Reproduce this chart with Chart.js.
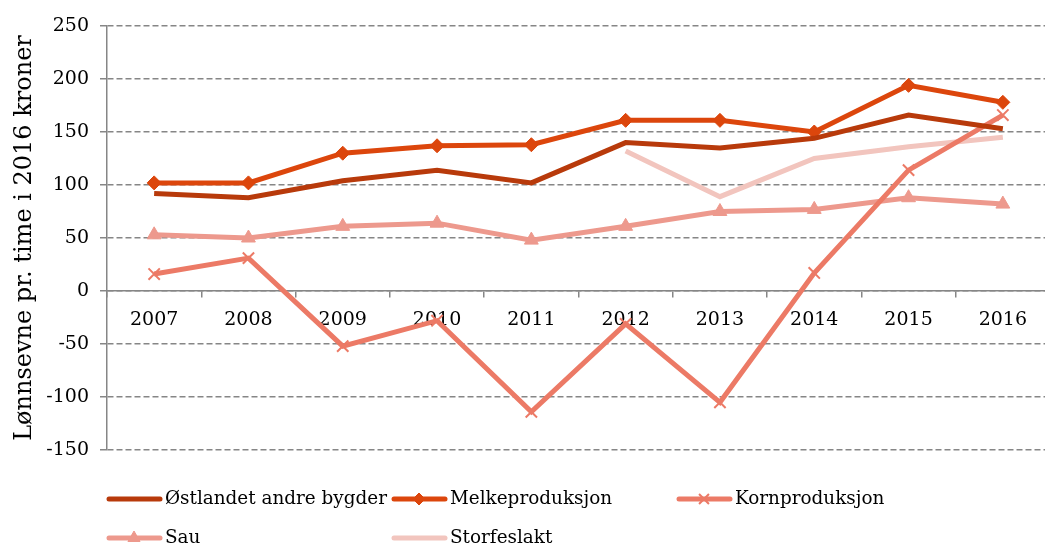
<!DOCTYPE html>
<html>
<head>
<meta charset="utf-8">
<script src="https://cdn.jsdelivr.net/npm/chart.js@4"></script>
<style>
  html, body { margin: 0; padding: 0; background: #fff; overflow: hidden; }
  #wrap { width: 1060px; height: 547px; }
</style>
</head>
<body>
<div id="wrap"><canvas id="lonnChart" width="1060" height="547"></canvas></div>
<script>
// kategorier og verdier lest av figuren
const aar = ['2007', '2008', '2009', '2010', '2011', '2012', '2013', '2014', '2015', '2016'];
const ostlandet = [92, 88, 104, 114, 102, 140, 135, 144, 166, 153];
const melk = [102, 102, 130, 137, 138, 161, 161, 150, 194, 178];
const korn = [16, 31, -52, -28, -114, -31, -105, 17, 114, 166];
const sau = [53, 50, 61, 64, 48, 61, 75, 77, 88, 82];
const storfe = [null, null, null, null, null, 132, 89, 125, 136, 145];
const yTicks = [250, 200, 150, 100, 50, 0, -50, -100, -150];

const serif = '"DejaVu Serif", "Liberation Serif", serif';
const axisGray = '#868686';

function serie(label, data, color, style, radius) {
    return {
        label: label,
        data: data,
        borderColor: color,
        backgroundColor: color,
        borderWidth: 5,
        tension: 0,
        fill: false,
        pointStyle: style,
        pointRadius: radius,
        pointHoverRadius: radius,
        pointBorderWidth: style === 'crossRot' ? 2 : 1,
        spanGaps: false,
    };
}

// egen legende i to kolonner (som i originalen)
const kolonneLegende = {
    id: 'kolonneLegende',
    afterDraw(chart) {
        const ctx = chart.ctx;
        const plass = [[107, 499], [392, 499], [677, 499], [107, 538], [392, 538]];
        chart.data.datasets.forEach((ds, i) => {
            const [x, y] = plass[i];
            ctx.save();
            ctx.strokeStyle = ds.borderColor;
            ctx.lineWidth = 5;
            ctx.lineCap = 'round';
            ctx.beginPath();
            ctx.moveTo(x + 2, y);
            ctx.lineTo(x + 53, y);
            ctx.stroke();
            if (ds.pointRadius > 0) {
                ctx.fillStyle = ds.backgroundColor;
                ctx.strokeStyle = ds.borderColor;
                ctx.lineWidth = ds.pointBorderWidth;
                ctx.lineCap = 'butt';
                Chart.helpers.drawPoint(ctx, {
                    pointStyle: ds.pointStyle,
                    radius: ds.pointRadius - 1,
                    rotation: 0,
                    borderWidth: ds.pointBorderWidth
                }, x + 27, y);
            }
            ctx.fillStyle = '#000';
            ctx.font = '18.4px ' + serif;
            ctx.textBaseline = 'middle';
            ctx.fillText(ds.label, x + 58, y);
            ctx.restore();
        });
    }
};

const config = {
    type: 'line',
    data: {
        labels: aar,
        datasets: [
            serie('Østlandet andre bygder', ostlandet, '#B83A0B', 'circle', 0),
            serie('Melkeproduksjon', melk, '#DC460C', 'rectRot', 7),
            serie('Kornproduksjon', korn, '#EC7A66', 'crossRot', 8),
            serie('Sau', sau, '#ED998D', 'triangle', 8),
            serie('Storfeslakt', storfe, '#F2C5BE', 'circle', 0),
        ]
    },
    options: {
        responsive: false,
        animation: false,
        layout: { padding: { top: 26, right: 3, bottom: 97, left: 10 } },
        plugins: {
            legend: { display: false },
            tooltip: { enabled: false }
        },
        scales: {
            x: {
                type: 'category',
                position: { y: 0 },
                offset: true,
                grid: {
                    offset: true,
                    drawOnChartArea: false,
                    tickLength: 6,
                    color: axisGray,
                    lineWidth: 1.5
                },
                border: { color: axisGray, width: 1.5 },
                ticks: {
                    color: '#000',
                    font: { family: serif, size: 19 },
                    padding: 12,
                    maxRotation: 0
                }
            },
            y: {
                min: -150,
                max: 250,
                afterBuildTicks(scale) {
                    scale.ticks = yTicks.map(v => ({ value: v }));
                },
                afterFit(scale) { scale.width = 97; },
                grid: {
                    color: axisGray,
                    lineWidth: 1.5,
                    tickLength: 7
                },
                border: { color: axisGray, width: 1.5, dash: [6, 3] },
                ticks: {
                    color: '#000',
                    font: { family: serif, size: 19 },
                    padding: 11
                },
                title: {
                    display: true,
                    text: 'Lønnsevne pr. time i 2016 kroner',
                    color: '#000',
                    font: { family: serif, size: 24 },
                    padding: { top: 0, bottom: 2 }
                }
            }
        }
    },
    plugins: [kolonneLegende]
};

document.addEventListener('DOMContentLoaded', function () {
    const ctx = document.getElementById('lonnChart');
    if (ctx) {
        new Chart(ctx, config);
    }
});
</script>
</body>
</html>
